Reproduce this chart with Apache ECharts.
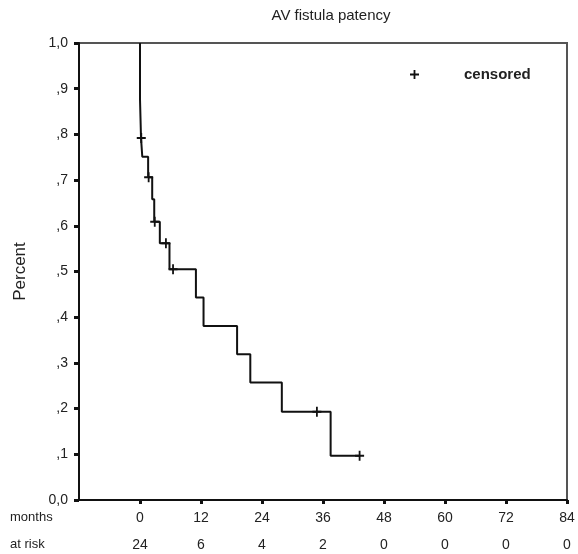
<!DOCTYPE html>
<html>
<head>
<meta charset="utf-8">
<script src="https://cdn.jsdelivr.net/npm/echarts@6/dist/echarts.min.js"></script>
<style>
  html, body { margin: 0; padding: 0; background: #fff; }
  #chart { width: 578px; height: 554px; }
</style>
</head>
<body>
<div id="chart"></div>
<script>
// months axis + at-risk table
var months = [0, 12, 24, 36, 48, 60, 72, 84];
var atRisk = [24, 6, 4, 2, 0, 0, 0, 0];

// Kaplan-Meier steps (time in months, proportion surviving)
var stepTimes = [0, 0, 0.2, 0.45, 1.6, 2.4, 2.8, 3.9, 5.8, 11.0, 12.5, 19.1, 21.7, 27.9, 37.5, 43.2];
var survival  = [1.0, 0.877, 0.792, 0.751, 0.706, 0.658, 0.609, 0.562, 0.505, 0.443, 0.381, 0.319, 0.257, 0.193, 0.097, 0.097];

// censored observations
var censorTimes    = [0.25, 1.7, 2.9, 5.1, 6.5, 34.8, 43.2];
var censorSurvival = [0.792, 0.706, 0.609, 0.562, 0.505, 0.193, 0.097];

var plusPath = 'path://M0,4 H10 V6 H0 Z M4,0 H6 V10 H4 Z';
var font = 'Liberation Sans, Arial, sans-serif';

var chart = echarts.init(document.getElementById('chart'));

var option = {
  backgroundColor: '#fff',
  animation: false,
  textStyle: { fontFamily: font },
  title: {
    text: 'AV fistula patency',
    left: 326,
    textAlign: 'center',
    top: 3,
    textStyle: { fontSize: 15, fontWeight: 'normal', color: '#222', fontFamily: font }
  },
  legend: {
    left: 405,
    top: 62,
    data: ['censored'],
    icon: plusPath,
    itemWidth: 9,
    itemHeight: 9,
    textStyle: { fontSize: 15, fontWeight: 'bold', color: '#222', padding: [0, 0, 0, 40], fontFamily: font }
  },
  grid: {
    left: 79, right: 11, top: 43, bottom: 54,
    show: true,
    borderColor: '#555',
    borderWidth: 2
  },
  graphic: [
    { type: 'text', left: 10, top: 511, style: { text: 'months', fontSize: 13, fill: '#222', fontFamily: font } },
    { type: 'text', left: 10, top: 538, style: { text: 'at risk', fontSize: 13, fill: '#222', fontFamily: font } }
  ],
  xAxis: [
    {
      type: 'value',
      min: -12,
      max: 84,
      position: 'bottom',
      splitLine: { show: false },
      axisLine: { onZero: false, lineStyle: { color: '#111', width: 2 } },
      axisTick: { customValues: months, length: 4, lineStyle: { color: '#111', width: 3 } },
      axisLabel: { customValues: months, margin: 11, fontSize: 14, color: '#222', fontFamily: font }
    },
    {
      type: 'value',
      min: -12,
      max: 84,
      position: 'bottom',
      offset: 27,
      splitLine: { show: false },
      axisLine: { show: false, onZero: false },
      axisTick: { show: false },
      axisLabel: {
        customValues: months,
        margin: 11,
        fontSize: 14,
        color: '#222',
        fontFamily: font,
        formatter: function (v) {
          var i = months.indexOf(v);
          return i >= 0 ? String(atRisk[i]) : '';
        }
      }
    }
  ],
  yAxis: {
    type: 'value',
    min: 0,
    max: 1,
    interval: 0.1,
    name: 'Percent',
    nameLocation: 'middle',
    nameGap: 50,
    nameTextStyle: { fontSize: 17, color: '#222', fontFamily: font },
    splitLine: { show: false },
    axisLine: { onZero: false, lineStyle: { color: '#111', width: 2 } },
    axisTick: { length: 5, lineStyle: { color: '#111', width: 3 } },
    axisLabel: {
      margin: 11,
      fontSize: 14,
      color: '#222',
      fontFamily: font,
      formatter: function (v) {
        if (v === 0) return '0,0';
        if (v === 1) return '1,0';
        return ',' + Math.round(v * 10);
      }
    }
  },
  series: [
    {
      name: 'patency',
      type: 'line',
      step: 'end',
      showSymbol: false,
      lineStyle: { color: '#111', width: 2 },
      data: stepTimes.map(function (t, i) { return [t, survival[i]]; })
    },
    {
      name: 'censored',
      type: 'scatter',
      symbol: plusPath,
      symbolSize: [9, 10],
      itemStyle: { color: '#111', opacity: 1 },
      data: censorTimes.map(function (t, i) { return [t, censorSurvival[i]]; })
    }
  ]
};

chart.setOption(option);
</script>
</body>
</html>
